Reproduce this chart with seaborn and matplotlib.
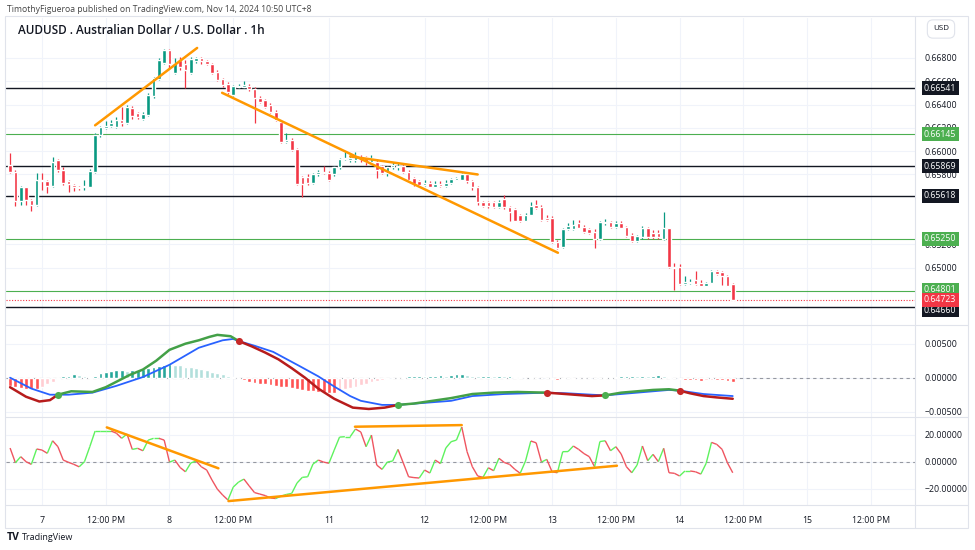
import matplotlib
matplotlib.use("Agg")
import matplotlib.pyplot as plt
from matplotlib.collections import LineCollection
from matplotlib.lines import Line2D
from matplotlib.patches import Rectangle
from matplotlib.transforms import offset_copy
import seaborn as sns
import numpy as np

# 1h AUDUSD candles, Nov 6 18:00 .. Nov 14 10:00 (weekend bars skipped)
opens = [
    .6588, .6582, .6557, .6569, .6558, .6554, .6575, .6574, .6570, .6592,
    .6584, .6574, .6571, .6569, .6569, .6569, .6582, .6614, .6620, .6622,
    .6621, .6627, .6624, .6637, .6633, .6628, .6631, .6647, .6662, .6676,
    .6687, .6667, .6678, .6675, .6667, .6677, .6680, .6677, .6675, .6668,
    .6662, .6658, .6648, .6655, .6655, .6656, .6653, .6646, .6644, .6640,
    .6634, .6625, .6608, .6610, .6602, .6578, .6578, .6573, .6580, .6582,
    .6581, .6580, .6586, .6593, .6592, .6592, .6595, .6595, .6591, .6591,
    .6587, .6581, .6586, .6586, .6587, .6582, .6577, .6574, .6571, .6573,
    .6569, .6572, .6570, .6573, .6575, .6575, .6580, .6574, .6569, .6556,
    .6556, .6556, .6552, .6559, .6552, .6550, .6545, .6540, .6545, .6554,
    .6552, .6543, .6543, .6522, .6518, .6533, .6533, .6538, .6535, .6533,
    .6531, .6525, .6538, .6539, .6535, .6538, .6535, .6528, .6523, .6526,
    .6534, .6530, .6530, .6525, .6534, .6501, .6501, .6486, .6487, .6489,
    .6487, .6484, .6487, .6497, .6496, .6493, .6486]
closes = [
    .6582, .6557, .6569, .6558, .6554, .6575, .6574, .6570, .6591, .6584,
    .6573, .6572, .6569, .6568, .6570, .6583, .6614, .6621, .6622, .6624,
    .6627, .6624, .6638, .6630, .6629, .6632, .6648, .6663, .6678, .6687,
    .6675, .6676, .6672, .6670, .6679, .6680, .6677, .6675, .6667, .6661,
    .6657, .6651, .6656, .6656, .6657, .6653, .6646, .6642, .6638, .6634,
    .6627, .6608, .6610, .6601, .6572, .6572, .6573, .6580, .6582, .6581,
    .6575, .6586, .6593, .6594, .6594, .6597, .6593, .6591, .6594, .6584,
    .6581, .6586, .6588, .6587, .6582, .6575, .6572, .6571, .6573, .6569,
    .6572, .6570, .6573, .6576, .6577, .6580, .6574, .6569, .6556, .6553,
    .6553, .6552, .6556, .6552, .6548, .6540, .6540, .6545, .6553, .6551,
    .6541, .6541, .6522, .6517, .6533, .6536, .6537, .6534, .6531, .6530,
    .6525, .6539, .6539, .6535, .6538, .6534, .6527, .6523, .6527, .6534,
    .6526, .6526, .6526, .6534, .6501, .6500, .6486, .6488, .6488, .6486,
    .6484, .6487, .6497, .6495, .6493, .6484, .64723]
highs = [
    .6598, .6584, .6570, .6569, .6559, .6581, .6581, .6575, .6595, .6593,
    .6586, .6575, .6572, .6570, .6575, .6585, .6616, .6622, .6626, .6627,
    .6629, .6638, .6640, .6639, .6634, .6634, .6650, .6664, .6680, .6688,
    .6688, .6680, .6681, .6678, .6681, .6681, .6681, .6678, .6676, .6670,
    .6663, .6659, .6657, .6658, .6660, .6658, .6655, .6647, .6645, .6641,
    .6635, .6626, .6616, .6611, .6603, .6579, .6580, .6581, .6584, .6587,
    .6583, .6587, .6594, .6599, .6597, .6599, .6597, .6596, .6597, .6593,
    .6588, .6587, .6591, .6590, .6589, .6584, .6578, .6575, .6575, .6574,
    .6574, .6574, .6575, .6577, .6578, .6581, .6581, .6575, .6570, .6557,
    .6557, .6557, .6558, .6562, .6553, .6551, .6546, .6547, .6556, .6558,
    .6554, .6545, .6544, .6524, .6534, .6538, .6541, .6541, .6537, .6534,
    .6533, .6540, .6542, .6540, .6540, .6540, .6536, .6530, .6528, .6536,
    .6535, .6532, .6532, .6548, .6534, .6504, .6503, .6493, .6490, .6497,
    .6489, .6488, .6498, .6498, .6497, .6494, .6487]
lows = [
    .6581, .6553, .6554, .6554, .6549, .6553, .6567, .6564, .6569, .6582,
    .6571, .6565, .6566, .6567, .6567, .6569, .6581, .6612, .6619, .6621,
    .6620, .6622, .6623, .6628, .6628, .6627, .6630, .6646, .6661, .6675,
    .6671, .6666, .6670, .6654, .6666, .6676, .6675, .6674, .6666, .6660,
    .6655, .6649, .6647, .6654, .6654, .6652, .6624, .6641, .6637, .6633,
    .6626, .6607, .6607, .6600, .6571, .6561, .6571, .6572, .6579, .6580,
    .6574, .6579, .6585, .6592, .6591, .6591, .6591, .6588, .6590, .6577,
    .6580, .6579, .6585, .6584, .6581, .6574, .6570, .6570, .6570, .6569,
    .6569, .6569, .6569, .6572, .6575, .6575, .6573, .6567, .6554, .6552,
    .6551, .6551, .6551, .6550, .6540, .6540, .6539, .6540, .6545, .6550,
    .6540, .6540, .6521, .6516, .6517, .6532, .6532, .6534, .6530, .6529,
    .6517, .6524, .6537, .6534, .6534, .6534, .6526, .6522, .6522, .6525,
    .6525, .6525, .6525, .6524, .6500, .6481, .6485, .6485, .6486, .6485,
    .6484, .6484, .6487, .6494, .6485, .6484, .6472]

# horizontal levels
black_levels = [0.66541, 0.65869, 0.65618, 0.64660]
green_levels = [0.66145, 0.65250, 0.64801]
last_price = 0.64723

# trend lines: (start bar, start value, end bar, end value)
price_trends = [(16.0, 0.66222, 35.2, 0.66886),
                (39.9, 0.66501, 103.1, 0.65128),
                (64.0, 0.65955, 88.0, 0.65800)]
osc_trends = [(18.2, 25.3, 39.2, -5.0),
              (64.9, 25.8, 85.0, 27.0),
              (41.1, -29.3, 114.2, -3.1)]

# MACD histogram, units of 0.0001
hist_e4 = [
    -12, -14, -15, -16, -16, -16, -13, -10, -6, -2,
    2, 3, 5, 4, 2, 1, 3, 7, 9, 10,
    11, 11, 10, 12, 12, 13, 14, 16, 17, 19,
    20, 19, 18, 16, 15, 14, 13, 11, 9, 7,
    5, 3, 1, -2, -4, -6, -8, -9, -10, -11,
    -12, -13, -14, -15, -17, -18, -19, -20, -21, -21,
    -22, -22, -19, -17, -15, -13, -11, -9, -7, -5,
    -4, -2, -1, 0, 1, 2, 3, 3, 2, 2,
    3, 4, 3, 4, 5, 5, 4, 3, 2, 2,
    3, 2, 3, 2, 3, 1, 1, 0, 1, 0,
    0, -1, -2, -3, -2, -1, -2, -1, -1, 0,
    -1, 0, 1, 1, 1, 2, 3, 3, 2, 3,
    2, 3, 4, 3, 1, -1, -2, -3, -3, -4,
    -5, -4, -3, -3, -4, -5, -6]

# MACD and signal lines read at bar positions, units of 0.0001
macd_bar = [0, 3, 5.5, 7.5, 9, 11.5, 15.5, 18, 20, 22.5, 25, 27.5, 30, 33, 35.5,
            37.5, 39, 41.5, 43, 45.5, 48, 50.5, 53, 55.5, 58, 61, 64.5, 67.5,
            70.5, 73, 76, 79.5, 83, 87, 91, 95.5, 101, 104.5, 109.5, 112, 115,
            118, 121, 124, 126, 128, 130.5, 133, 136]
macd_e4 = [-14, -28, -35, -33, -25, -20, -21, -14, -6, 4, 12, 25, 41, 50, 55,
           60, 63, 61, 54, 46, 37, 27, 14, 0, -16, -31, -44, -46,
           -44, -40, -38, -34, -30, -24, -22, -21, -22, -24, -27, -26, -22,
           -20, -18, -17, -19, -23, -27, -29, -31]
signal_bar = [0, 4, 7.5, 11, 15.5, 20, 25, 30, 35.5, 40, 42, 43, 46, 49.5, 54.5,
              58, 61, 64, 66, 70, 73, 78, 83, 87, 93, 101, 105, 109.5, 112,
              118, 124, 126, 130.5, 136]
signal_e4 = [0, -16, -25, -25, -22, -12, 1, 19, 44, 55, 57, 54, 47, 38, 17,
             2, -13, -27, -34, -40, -40, -37, -34, -27, -24, -22, -23, -25, -26,
             -22, -18, -19, -24, -27]
cross_bars = [9, 43, 73, 101, 112, 126]
cross_up = [True, False, True, False, True, False]

# lower oscillator
osc = [
    10, -0.9, 3.6, -0.1, -2.1, 9.3, 8.5, 6.1, 15.4, 11.0,
    1.1, -0.6, -2.1, -3.9, -0.1, 11, 22.6, 22.6, 22.6, 22.6,
    21, 17.2, 20.4, 9.0, 9.8, 8.0, 15.9, 17.2, 17.2, 15.9,
    -0.4, 1.1, -4.4, -7.6, -1.1, 0.4, -3.9, -6.3, -13.7, -20.4,
    -24.8, -28.5, -18.9, -15.2, -13, -18.1, -23, -24.1, -25.2, -27,
    -27.4, -25.6, -24.4, -23.6, -15.9, -11.7, -11.3, -1.9, 1.1, -0.4,
    -1.3, 8.5, 18.1, 18.4, 18.4, 24.1, 21.9, 11, 19.6, -2.6,
    -5.8, -0.4, 0.4, 9.0, -1.1, -11.3, -11.9, -12.2, -6.3, -8.5,
    1.1, -1.5, 10, 14.7, 15.9, 25.6, 7.3, -3.9, -10.7, -11.7,
    -4.6, -6.8, 2.4, -0.7, -2.1, -5.8, -8.7, 0.4, 15.2, 13.9,
    -0.4, 1.6, -7.6, -8.3, 7.3, 7.4, 11.5, 9.0, 5.9, 3.6,
    -3.9, 14.8, 15.4, 8.0, 11.0, 5.6, -3.9, -8.3, -2.6, 11.5,
    0.6, 5.3, -0.1, 9.8, -8.3, -8.7, -10.7, -7.0, -7.0, -7.6,
    -9.3, -1.3, 14.2, 12.7, 9.0, -0.9, -8.3]

# time axis labels at bar positions (future bars continue the count)
tick_bars = [6, 18, 30, 42, 60, 78, 90, 102, 114, 126, 138, 150, 162]
tick_labels = ["7", "12:00 PM", "8", "12:00 PM", "11", "12", "12:00 PM", "13",
               "12:00 PM", "14", "12:00 PM", "15", "12:00 PM"]

UP, DOWN = "#089981", "#f23645"
GRID = "#f0f3fa"
SEP = "#e0e3eb"
TXT = "#131722"

sns.set_theme(style="white")
plt.rcParams["font.family"] = ["Open Sans", "DejaVu Sans"]

W, H = 975, 550
fig = plt.figure(figsize=(W / 100, H / 100), dpi=100)
fig.patch.set_facecolor("white")


def rect(top, bottom, left=6, right=915):
    return [left / W, 1 - bottom / H, (right - left) / W, (bottom - top) / H]


ax = fig.add_axes(rect(18, 325))
axm = fig.add_axes(rect(325, 417), sharex=ax)
axo = fig.add_axes(rect(417, 505), sharex=ax)

bars = np.arange(len(closes))
xlim = (-0.77, 170.3)

for a in (ax, axm, axo):
    a.set_facecolor("white")
    for s in a.spines.values():
        s.set_visible(False)
    a.set_xticks(tick_bars)
    a.grid(True, color=GRID, linewidth=0.8)
    a.yaxis.tick_right()
    a.tick_params(axis="both", length=0, labelsize=6.3, labelcolor=TXT, pad=7)
    a.set_axisbelow(True)
ax.tick_params(axis="x", labelbottom=False)
axm.tick_params(axis="x", labelbottom=False)
axo.set_xticks(tick_bars, tick_labels)
axo.tick_params(axis="x", pad=8)
ax.set_xlim(*xlim)

# ---- price pane
o = np.array(opens)
c = np.array(closes)
cols = [UP if cc >= oo else DOWN for oo, cc in zip(o, c)]
ax.vlines(bars, lows, highs, colors=cols, linewidth=0.9, zorder=3)
body = np.maximum(np.abs(c - o), 0.00004)
ax.bar(bars, body, bottom=np.minimum(o, c), width=0.68, color=cols, zorder=4)

for lv in black_levels:
    ax.axhline(lv, color="#131722", linewidth=1.0, zorder=2)
for lv in green_levels:
    ax.axhline(lv, color="#4caf50", linewidth=0.8, zorder=2)
ax.axhline(last_price, color=DOWN, linewidth=0.8, linestyle=(0, (1, 1.5)), zorder=2)

for x0, y0, x1, y1 in price_trends:
    sns.lineplot(x=[x0, x1], y=[y0, y1], ax=ax, color="#ff9800", linewidth=1.8,
                 zorder=5, estimator=None)

ax.set_ylim(0.64508, 0.67143)
pticks = [0.650, 0.652, 0.658, 0.660, 0.662, 0.664, 0.666, 0.668]
ax.set_yticks(pticks, [f"{t:.5f}" for t in pticks])

ytr = ax.get_yaxis_transform()
lab_x = 1 + 9 / 909


def price_label(value, face, dy=0, z=10):
    tr = offset_copy(ytr, fig=fig, y=dy, units="points")
    ax.text(lab_x, value, f"{value:.5f}", transform=tr, fontsize=6.3, color="white",
            va="center", ha="left", clip_on=False, zorder=z,
            bbox=dict(boxstyle="square,pad=0.28", fc=face, ec="none"))


for lv in black_levels:
    price_label(lv, "#131722", dy=-2.2 if lv == min(black_levels) else 0)
for lv in green_levels:
    price_label(lv, "#4caf50", dy=0.8 if lv == min(green_levels) else 0)
price_label(last_price, DOWN, z=11)

# ---- MACD pane
hist = np.array(hist_e4) * 1e-4
hcols = []
prev = None
for v in hist:
    if v >= 0:
        hcols.append("#26a69a" if prev is None or v >= prev else "#b2dfdb")
    else:
        hcols.append("#ff5252" if prev is None or v <= prev else "#ffcdd2")
    prev = v
axm.bar(bars, hist, width=0.72, color=hcols, zorder=2)
axm.axhline(0, color="#9598a1", linewidth=0.8, linestyle=(0, (3, 3)), zorder=1)

sns.lineplot(x=signal_bar, y=np.array(signal_e4) * 1e-4, ax=axm, color="#2962ff",
             linewidth=1.3, zorder=3, estimator=None, sort=False)

mb = np.array(macd_bar)
mv = np.array(macd_e4) * 1e-4
edges = [0] + cross_bars + [136]
for k in range(len(edges) - 1):
    sel = (mb >= edges[k]) & (mb <= edges[k + 1])
    up = cross_up[k - 1] if k > 0 else False
    sns.lineplot(x=mb[sel], y=mv[sel], ax=axm, color="#43a047" if up else "#b71c1c",
                 linewidth=1.8, zorder=4, estimator=None, sort=False)
for cb, cu in zip(cross_bars, cross_up):
    yv = mv[list(mb).index(cb)]
    axm.scatter([cb], [yv], s=26, color="#4caf50" if cu else "#c62828", zorder=6,
                linewidths=0)

axm.set_ylim(-0.00578, 0.00775)
axm.set_yticks([-0.005, 0.0, 0.005], ["\u22120.00500", "0.00000", "0.00500"])

# ---- oscillator pane
ov = np.array(osc)
pts = np.column_stack([bars, ov])
segs = np.stack([pts[:-1], pts[1:]], axis=1)
ocols = ["#5ef25e" if ov[i + 1] >= ov[i] else "#ef5560" for i in range(len(ov) - 1)]
axo.add_collection(LineCollection(segs, colors=ocols, linewidths=1.0, zorder=3))
axo.axhline(0, color="#9598a1", linewidth=0.8, linestyle=(0, (3, 3)), zorder=1)
for x0, y0, x1, y1 in osc_trends:
    sns.lineplot(x=[x0, x1], y=[y0, y1], ax=axo, color="#ff9800", linewidth=1.8,
                 zorder=5, estimator=None)
axo.set_ylim(-32.2, 33.0)
axo.set_yticks([-20, 0, 20], ["\u221220.00000", "0.00000", "20.00000"])

for a in (ax, axm, axo):
    a.set_xlabel("")
    a.set_ylabel("")
    if a.get_legend():
        a.get_legend().remove()
ax.set_xlim(*xlim)

# ---- frame, separators and texts
fig.add_artist(Rectangle((5 / W, 1 - 528 / H), 963 / W, 512 / H, transform=fig.transFigure,
                         fill=False, ec=SEP, lw=0.8))
fig.add_artist(Line2D([915 / W, 915 / W], [1 - 528 / H, 1 - 16 / H], color=SEP, lw=0.8))
for yy in (325, 417, 505):
    fig.add_artist(Line2D([5 / W, 968 / W], [1 - yy / H, 1 - yy / H], color=SEP, lw=0.8))

fig.text(7 / W, 1 - 9 / H, "TimothyFigueroa published on TradingView.com, Nov 14, 2024 10:50 UTC+8",
         fontsize=6.2, color="#444444", va="center", ha="left")
fig.text(18 / W, 1 - 30 / H, "AUDUSD . Australian Dollar / U.S. Dollar . 1h",
         fontsize=8.5, color=TXT, fontweight="semibold", va="center", ha="left")
fig.text(941 / W, 1 - 29 / H, "USD", fontsize=5.8, color=TXT, va="center", ha="center",
         bbox=dict(boxstyle="round,pad=0.7", fc="white", ec=SEP, lw=0.8))
fig.text(7 / W, 1 - 538 / H, "TV", fontsize=7.5, color=TXT, fontweight="bold",
         va="center", ha="left")
fig.text(22 / W, 1 - 538 / H, "TradingView", fontsize=6.5, color=TXT, va="center", ha="left")

fig.savefig("out.png", dpi=100, facecolor="white")
